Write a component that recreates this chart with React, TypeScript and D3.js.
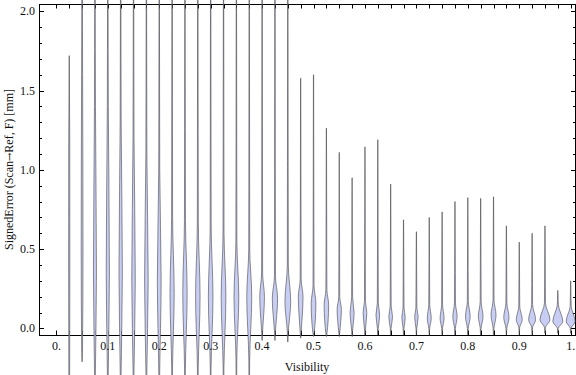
import { useEffect, useRef } from "react";
import * as d3 from "d3";

// Visibility bins (violin centres)
const visibility = [
	0.025, 0.05, 0.075, 0.1, 0.125, 0.15, 0.175, 0.2, 0.225, 0.25,
	0.275, 0.3, 0.325, 0.35, 0.375, 0.4, 0.425, 0.45, 0.475, 0.5,
	0.525, 0.55, 0.575, 0.6, 0.625, 0.65, 0.675, 0.7, 0.725, 0.75,
	0.775, 0.8, 0.825, 0.85, 0.875, 0.9, 0.925, 0.95, 0.975, 1.0,
];

// Min / max of the signed error per bin [mm]
const lows = [
	-0.6, -0.21, -0.6, -0.6, -0.6, -0.6, -0.6, -0.6, -0.6, -0.6,
	-0.6, -0.6, -0.6, -0.6, -0.6, -0.075, -0.075, -0.085, -0.06, -0.05,
	-0.05, -0.05, -0.05, -0.04, -0.04, -0.04, -0.04, -0.04, -0.04, -0.04,
	-0.04, -0.04, -0.04, -0.04, -0.04, -0.04, -0.04, -0.03, -0.03, -0.03,
];
const highs = [
	1.72, 2.6, 2.6, 2.6, 2.6, 2.6, 2.6, 2.6, 2.6, 2.6,
	2.6, 2.6, 2.6, 2.6, 2.6, 2.6, 2.6, 2.6, 1.578, 1.6,
	1.263, 1.11, 0.95, 1.145, 1.19, 0.91, 0.685, 0.61, 0.7, 0.735,
	0.8, 0.825, 0.82, 0.83, 0.647, 0.544, 0.6, 0.647, 0.24, 0.3,
];

// Where the body of each violin starts, peaks and ends
const bulgeLows = [
	-0.3, -0.15, -0.3, -0.3, -0.3, -0.3, -0.3, -0.3, -0.25, -0.25,
	-0.25, -0.25, -0.25, -0.2, -0.2, -0.03, -0.03, -0.03, -0.03, -0.04,
	-0.04, -0.03, -0.02, -0.01, 0, 0, 0, 0, 0, 0,
	0, 0, 0, 0, 0, 0.005, 0.005, 0.005, 0, 0,
];
const modes = [
	0.4, 0.5, 0.35, 0.35, 0.35, 0.3, 0.3, 0.3, 0.22, 0.22,
	0.2, 0.2, 0.2, 0.2, 0.2, 0.2, 0.19, 0.17, 0.2, 0.16,
	0.15, 0.12, 0.1, 0.1, 0.085, 0.075, 0.07, 0.075, 0.064, 0.064,
	0.075, 0.075, 0.075, 0.085, 0.07, 0.055, 0.055, 0.055, 0.045, 0.045,
];
const bulgeHighs = [
	1.2, 1.6, 1.4, 1.4, 1.3, 1.2, 1.1, 1.0, 0.7, 0.68,
	0.66, 0.64, 0.6, 0.55, 0.5, 0.35, 0.33, 0.4, 0.31, 0.27,
	0.245, 0.2, 0.2, 0.17, 0.16, 0.14, 0.13, 0.13, 0.15, 0.15,
	0.16, 0.17, 0.17, 0.18, 0.16, 0.14, 0.15, 0.16, 0.15, 0.14,
];
// Relative density at the widest point
const peakDensity = [
	0.12, 0.18, 0.3, 0.32, 0.34, 0.35, 0.36, 0.38, 0.42, 0.44,
	0.45, 0.46, 0.47, 0.48, 0.5, 0.47, 0.53, 0.58, 0.47, 0.47,
	0.45, 0.43, 0.4, 0.37, 0.37, 0.37, 0.34, 0.35, 0.4, 0.4,
	0.43, 0.47, 0.47, 0.5, 0.53, 0.6, 0.7, 1.0, 1.0, 0.9,
];

const yMajor = [0, 0.5, 1, 1.5, 2];
const yLabels = ["0.0", "0.5", "1.0", "1.5", "2.0"];
const xMajor = [0, 0.1, 0.2, 0.3, 0.4, 0.5, 0.6, 0.7, 0.8, 0.9, 1.0];
const xLabels = ["0.", "0.1", "0.2", "0.3", "0.4", "0.5", "0.6", "0.7", "0.8", "0.9", "1."];

const FONT = "'Liberation Serif', 'Times New Roman', serif";

export default function App() {
	const ref = useRef<SVGSVGElement>(null);

	useEffect(() => {
		const svg = d3.select(ref.current);
		svg.selectAll("*").remove();

		const left = 39, right = 575, top = 4, bottom = 335;

		const x = d3.scaleLinear().domain([-0.0338, 1.0084]).range([left, right]);
		const y = d3.scaleLinear().domain([-0.041, 2.046]).range([bottom, top]);
		const w = d3.scaleLinear().domain([0, 1]).range([0, 5]);

		// Frame
		svg.append("rect")
			.attr("x", left + 0.5)
			.attr("y", top + 0.5)
			.attr("width", right - left)
			.attr("height", bottom - top)
			.attr("fill", "none")
			.attr("stroke", "#000")
			.attr("stroke-width", 1);

		// Y ticks (left and right), minor every 0.1
		const yMinor = y.ticks(20).filter(v => !yMajor.some(m => Math.abs(m - v) < 1e-6));
		const yTick = (vals: number[], len: number) => {
			vals.forEach(v => {
				const yy = Math.round(y(v)) + 0.5;
				svg.append("line").attr("x1", left).attr("x2", left + len)
					.attr("y1", yy).attr("y2", yy).attr("stroke", "#000");
				svg.append("line").attr("x1", right + 1).attr("x2", right + 1 - len)
					.attr("y1", yy).attr("y2", yy).attr("stroke", "#000");
			});
		};
		yTick(yMajor, 5);
		yTick(yMinor, 3);

		// X ticks (bottom and top) at every bin
		[0, ...visibility].forEach(v => {
			const xx = Math.round(x(v)) + 0.5;
			svg.append("line").attr("x1", xx).attr("x2", xx)
				.attr("y1", bottom).attr("y2", bottom - 4.5).attr("stroke", "#000");
			svg.append("line").attr("x1", xx).attr("x2", xx)
				.attr("y1", top).attr("y2", top + 4.5).attr("stroke", "#000");
		});

		// Violins
		const area = d3.area<{ v: number; d: number; cx: number }>()
			.y(p => y(p.v))
			.x0(p => p.cx - w(p.d))
			.x1(p => p.cx + w(p.d))
			.curve(d3.curveMonotoneY);

		visibility.forEach((vis, i) => {
			const cx = x(vis);
			const pts = [
				{ v: highs[i], d: 0.02, cx },
				{ v: bulgeHighs[i] + (highs[i] - bulgeHighs[i]) * 0.3, d: 0.07, cx },
				{ v: bulgeHighs[i], d: 0.1, cx },
				{ v: modes[i], d: peakDensity[i], cx },
				{ v: bulgeLows[i], d: 0.08, cx },
				{ v: lows[i], d: 0.02, cx },
			].sort((a, b) => b.v - a.v);

			svg.append("path")
				.attr("d", area(pts)!)
				.attr("fill", "#c8cdf4")
				.attr("stroke", "#444448")
				.attr("stroke-opacity", 0.75)
				.attr("stroke-width", 0.8);
		});

		// Tick labels
		yMajor.forEach((v, i) => {
			svg.append("text")
				.attr("x", 35)
				.attr("y", y(v))
				.attr("dy", "0.33em")
				.attr("text-anchor", "end")
				.attr("font-family", FONT)
				.attr("font-size", "12px")
				.attr("fill", "#111")
				.text(yLabels[i]);
		});

		xMajor.forEach((v, i) => {
			svg.append("text")
				.attr("x", x(v))
				.attr("y", 350)
				.attr("text-anchor", "middle")
				.attr("font-family", FONT)
				.attr("font-size", "12px")
				.attr("fill", "#111")
				.text(xLabels[i]);
		});

		// Axis labels
		svg.append("text")
			.attr("x", (left + right) / 2)
			.attr("y", 370.5)
			.attr("text-anchor", "middle")
			.attr("font-family", FONT)
			.attr("font-size", "12px")
			.attr("fill", "#111")
			.text("Visibility");

		const yl = svg.append("text")
			.attr("transform", `translate(12.5,${(top + bottom) / 2}) rotate(-90)`)
			.attr("text-anchor", "middle")
			.attr("font-family", FONT)
			.attr("font-size", "12px")
			.attr("fill", "#111");
		yl.append("tspan").text("SignedError (Scan");
		yl.append("tspan").attr("font-family", "'DejaVu Serif', serif").attr("font-size", "10px").text("\u2192");
		yl.append("tspan").text("Ref, F) [mm]");
	}, []);

	return (
		<svg
			ref={ref}
			width={576}
			height={375}
			style={{ position: "absolute", left: 0, top: 0, background: "#fff" }}
		/>
	);
}
